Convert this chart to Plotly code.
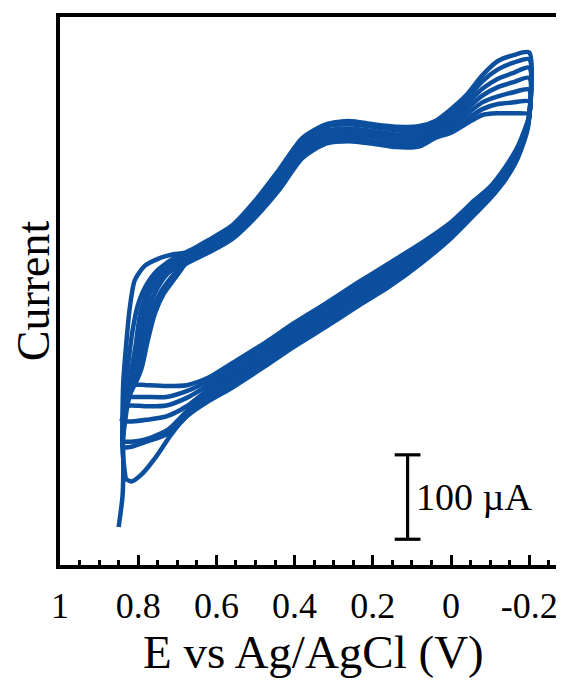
import plotly.graph_objects as go

# ---------------- data (potential in V, current in µA) ----------------
V_UPPER = [0.68, 0.62, 0.56, 0.50, 0.44, 0.38, 0.32, 0.26, 0.20, 0.14, 0.08,
           0.04, 0.00, -0.04, -0.08, -0.12, -0.16, -0.20]
V_LOWER = [-0.197, -0.17, -0.14, -0.10, -0.06, 0.00, 0.08, 0.16, 0.24, 0.32,
           0.40, 0.48, 0.56, 0.62]

# cycle 1
RISE_V_1 = [0.850, 0.840, 0.838, 0.840, 0.838, 0.830, 0.822, 0.809, 0.784, 0.748, 0.710]
RISE_I_1 = [-149, -112, -71, -24, 24, 71, 109, 143, 160, 169, 174]
I_UPPER_1 = [176, 191, 208, 238, 274, 312, 328, 332, 328, 325, 326, 332, 346, 363, 386, 403, 410, 413]
I_LOWER_1 = [325, 287, 263, 240, 221, 193, 162, 135, 112, 88, 65, 40, 16, 0]
TAIL_V_1 = [0.676, 0.715, 0.753, 0.792, 0.817, 0.832]
TAIL_I_1 = [-18, -39, -65, -87, -95, -92]

# cycle 2
RISE_V_2 = [0.832, 0.840, 0.840, 0.835, 0.825, 0.815, 0.802, 0.781, 0.751, 0.710]
RISE_I_2 = [-92, -59, -24, 12, 47, 82, 112, 136, 155, 169]
I_UPPER_2 = [174, 188, 205, 234, 270, 308, 325, 328, 325, 321, 322, 328, 340, 358, 379, 393, 401, 405]
I_LOWER_2 = [327, 289, 266, 242, 223, 195, 166, 140, 116, 93, 69, 45, 21, 5]
TAIL_V_2 = [0.676, 0.722, 0.779, 0.817, 0.840]
TAIL_I_2 = [-18, -38, -48, -54, -55]

# cycle 3
RISE_V_3 = [0.840, 0.835, 0.822, 0.807, 0.794, 0.771, 0.740, 0.702]
RISE_I_3 = [-55, -18, 24, 65, 106, 136, 155, 167]
I_UPPER_3 = [172, 186, 202, 229, 266, 303, 320, 323, 320, 316, 318, 325, 335, 352, 370, 382, 389, 395]
I_LOWER_3 = [328, 292, 268, 245, 227, 199, 171, 145, 121, 98, 74, 49, 26, 9]
TAIL_V_3 = [0.676, 0.722, 0.779, 0.817, 0.840]
TAIL_I_3 = [-12, -33, -45, -48, -48]

# cycle 4
RISE_V_4 = [0.840, 0.830, 0.815, 0.799, 0.786, 0.763, 0.733, 0.697]
RISE_I_4 = [-48, -12, 26, 67, 106, 134, 153, 165]
I_UPPER_4 = [169, 183, 200, 226, 262, 300, 316, 320, 316, 313, 314, 321, 330, 346, 362, 372, 378, 383]
I_LOWER_4 = [329, 294, 270, 247, 229, 202, 174, 149, 126, 102, 79, 54, 31, 14]
TAIL_V_4 = [0.676, 0.728, 0.779, 0.817, 0.843]
TAIL_I_4 = [-6, -18, -22, -24, -24]

# cycle 5
RISE_V_5 = [0.843, 0.825, 0.806, 0.792, 0.776, 0.753, 0.725, 0.692]
RISE_I_5 = [-24, 2, 32, 71, 106, 132, 151, 162]
I_UPPER_5 = [167, 181, 198, 222, 259, 296, 313, 316, 313, 309, 310, 319, 326, 340, 354, 361, 366, 369]
I_LOWER_5 = [330, 296, 273, 249, 232, 206, 178, 154, 131, 107, 83, 59, 35, 19]
TAIL_V_5 = [0.676, 0.728, 0.779, 0.817, 0.840]
TAIL_I_5 = [4, -5, -6, -5, -6]

# cycle 6
RISE_V_6 = [0.840, 0.817, 0.797, 0.784, 0.766, 0.743, 0.715, 0.689]
RISE_I_6 = [-6, 12, 35, 71, 106, 129, 147, 160]
I_UPPER_6 = [165, 179, 194, 220, 254, 292, 308, 312, 308, 305, 306, 315, 321, 334, 346, 352, 354, 355]
I_LOWER_6 = [332, 299, 275, 252, 235, 209, 182, 159, 135, 112, 88, 64, 40, 24]
TAIL_V_6 = [0.676, 0.728, 0.779, 0.817, 0.840]
TAIL_I_6 = [12, 5, 5, 5, 4]

# cycle 7
RISE_V_7 = [0.840, 0.812, 0.792, 0.776, 0.758, 0.735, 0.707, 0.687]
RISE_I_7 = [4, 18, 38, 71, 103, 127, 145, 158]
I_UPPER_7 = [162, 176, 192, 218, 250, 288, 305, 308, 305, 301, 302, 312, 318, 329, 339, 341, 341, 340]
I_LOWER_7 = [333, 301, 278, 254, 238, 212, 186, 163, 140, 116, 93, 68, 45, 28]
TAIL_V_7 = [0.676, 0.728, 0.779, 0.817, 0.840]
TAIL_I_7 = [19, 18, 19, 20, 19]

X_TICK_VALUES = [1.0, 0.8, 0.6, 0.4, 0.2, 0.0, -0.2]
X_TICK_LABELS = ["1", "0.8", "0.6", "0.4", "0.2", "0", "-0.2"]

SCALE_BAR_X = 0.111
SCALE_BAR_BOTTOM = -163.5
SCALE_BAR_LENGTH = 100
SCALE_BAR_LABEL = "100 µA"

# ---------------- figure ----------------
LINE_COLOR = "#0B4F9E"
FONT = "Liberation Serif, Times New Roman, serif"

cycles = [
    (RISE_V_1, RISE_I_1, I_UPPER_1, I_LOWER_1, TAIL_V_1, TAIL_I_1),
    (RISE_V_2, RISE_I_2, I_UPPER_2, I_LOWER_2, TAIL_V_2, TAIL_I_2),
    (RISE_V_3, RISE_I_3, I_UPPER_3, I_LOWER_3, TAIL_V_3, TAIL_I_3),
    (RISE_V_4, RISE_I_4, I_UPPER_4, I_LOWER_4, TAIL_V_4, TAIL_I_4),
    (RISE_V_5, RISE_I_5, I_UPPER_5, I_LOWER_5, TAIL_V_5, TAIL_I_5),
    (RISE_V_6, RISE_I_6, I_UPPER_6, I_LOWER_6, TAIL_V_6, TAIL_I_6),
    (RISE_V_7, RISE_I_7, I_UPPER_7, I_LOWER_7, TAIL_V_7, TAIL_I_7),
]

fig = go.Figure()
for n, (rv, ri, iu, il, tv, ti) in enumerate(cycles, start=1):
    fig.add_trace(go.Scatter(
        x=rv + V_UPPER + V_LOWER + tv,
        y=ri + iu + il + ti,
        mode="lines",
        name=f"Cycle {n}",
        line=dict(color=LINE_COLOR, width=4.5, shape="spline", smoothing=0.7),
        hoverinfo="skip",
    ))

# scale bar (100 µA)
cap = 0.033
top = SCALE_BAR_BOTTOM + SCALE_BAR_LENGTH
fig.add_trace(go.Scatter(
    x=[SCALE_BAR_X - cap, SCALE_BAR_X + cap, None, SCALE_BAR_X, SCALE_BAR_X, None,
       SCALE_BAR_X - cap, SCALE_BAR_X + cap],
    y=[top, top, None, top, SCALE_BAR_BOTTOM, None, SCALE_BAR_BOTTOM, SCALE_BAR_BOTTOM],
    mode="lines",
    line=dict(color="black", width=3.2),
    hoverinfo="skip",
    name="scale",
))

fig.add_annotation(
    x=0.094, y=SCALE_BAR_BOTTOM + SCALE_BAR_LENGTH / 2, xref="x", yref="y",
    text=SCALE_BAR_LABEL, showarrow=False, xanchor="left", yanchor="middle",
    font=dict(family=FONT, size=38, color="black"),
)
fig.add_annotation(
    x=0.502, y=-0.159, xref="paper", yref="paper",
    text="E vs Ag/AgCl (V)", showarrow=False, xanchor="center", yanchor="middle",
    font=dict(family=FONT, size=47, color="black"),
)

# the page adds an 8 px body margin, so the figure margins compensate for it
fig.update_layout(
    width=564, height=683,
    margin=dict(l=52, r=8, t=5, b=126),
    plot_bgcolor="white", paper_bgcolor="white",
    showlegend=False,
    font=dict(family=FONT, color="black"),
    xaxis=dict(
        range=[1.0, -0.289],
        showline=True, linewidth=3.5, linecolor="black", mirror=True,
        ticks="inside", ticklen=10, tickwidth=2.5, tickcolor="black",
        tickmode="array", tickvals=X_TICK_VALUES, ticktext=X_TICK_LABELS,
        tickfont=dict(family=FONT, size=36, color="black"),
        ticklabelstandoff=6,
        showgrid=False, zeroline=False,
        minor=dict(ticks="inside", ticklen=5, tickwidth=2.5, tickcolor="black",
                   tickmode="linear", tick0=0, dtick=0.05, showgrid=False),
    ),
    yaxis=dict(
        range=[-194.0, 455.1],
        showline=True, linewidth=3.5, linecolor="black",
        ticks="", showticklabels=False, showgrid=False, zeroline=False,
        title=dict(text="Current", standoff=10,
                   font=dict(family=FONT, size=46, color="black")),
        automargin=False,
    ),
)

fig.write_html("out.html")
